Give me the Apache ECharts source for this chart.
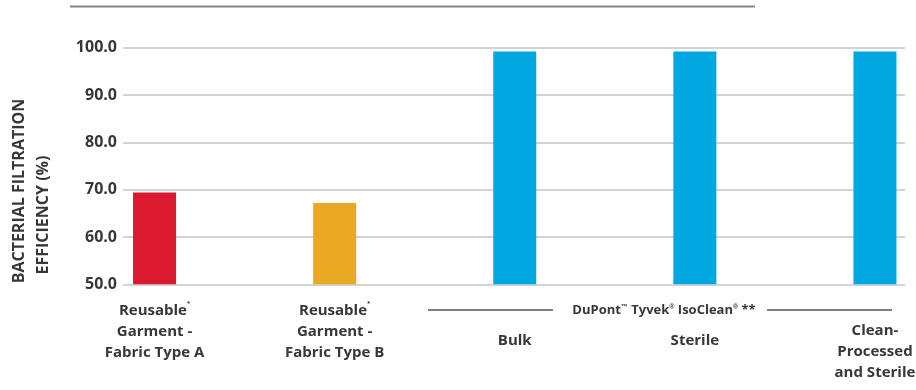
<!DOCTYPE html>
<html>
<head>
<meta charset="utf-8">
<script src="https://cdn.jsdelivr.net/npm/echarts@6/dist/echarts.min.js"></script>
<style>
  html, body { margin: 0; padding: 0; background: #ffffff; }
  #chart { width: 916px; height: 390px; }
</style>
</head>
<body>
<div id="chart"></div>
<script>
// Bacterial filtration efficiency by garment type
const categories = [
  'Reusable{s|*}\nGarment -\nFabric Type A',
  'Reusable{s|*}\nGarment -\nFabric Type B',
  'Bulk',
  'Sterile',
  'Clean-\nProcessed\nand Sterile'
];
const efficiency = [69.4, 67.2, 99.2, 99.2, 99.2];
const yTicks = { min: 50, max: 100, interval: 10 };

// styling
const barColors = ['#dc1a2f', '#eaa922', '#00a7e1', '#00a7e1', '#00a7e1'];
const labelDrop = [0, 0, 30, 30, 20]; // extra room below the IsoClean bracket
const textColor = '#3b3636';
const fontFamily = '"Open Sans", sans-serif';

const chart = echarts.init(document.getElementById('chart'), null, { renderer: 'canvas' });

const option = {
  animation: false,
  backgroundColor: '#ffffff',
  grid: [
    // value scale with horizontal rules
    { left: 123, right: 11, top: 47.8, bottom: 105.7, outerBoundsMode: 'none' },
    // bar layout: 180px per category
    { left: 64.5, width: 900.5, top: 47.8, bottom: 105.7, outerBoundsMode: 'none' }
  ],
  xAxis: [
    { gridIndex: 0, type: 'category', data: [''], show: false },
    {
      gridIndex: 1,
      type: 'category',
      data: categories.map((c, i) => ({ value: c, textStyle: { padding: [labelDrop[i], 0, 0, 0] } })),
      axisLine: { show: false },
      axisTick: { show: false },
      axisLabel: {
        interval: 0,
        margin: 16,
        color: textColor,
        fontFamily: fontFamily,
        fontWeight: 'bold',
        fontSize: 15,
        lineHeight: 21,
        rich: {
          s: { fontSize: 6, fontWeight: 'bold', color: textColor, verticalAlign: 'top', lineHeight: 8, fontFamily: fontFamily }
        }
      }
    }
  ],
  yAxis: [
    {
      gridIndex: 0,
      type: 'value',
      min: yTicks.min,
      max: yTicks.max,
      interval: yTicks.interval,
      axisLine: { show: false },
      axisTick: { show: false },
      splitLine: { show: true, lineStyle: { color: '#c4c4c4', width: 1.5 } },
      axisLabel: {
        margin: 6,
        padding: [0, 0, 6, 0],
        color: textColor,
        fontFamily: fontFamily,
        fontWeight: 'bold',
        fontSize: 16,
        formatter: v => v.toFixed(1)
      },
      name: '{l1|BACTERIAL FILTRATION}\n{l2|EFFICIENCY (%)}',
      nameLocation: 'middle',
      nameRotate: 90,
      nameGap: 68,
      nameTextStyle: {
        color: textColor,
        fontFamily: fontFamily,
        fontWeight: 'bold',
        fontSize: 16,
        lineHeight: 24,
        align: 'center',
        rich: {
          l1: { color: textColor, fontFamily: fontFamily, fontWeight: 'bold', fontSize: 16, lineHeight: 24, padding: [0, 50, 0, 0] },
          l2: { color: textColor, fontFamily: fontFamily, fontWeight: 'bold', fontSize: 16, lineHeight: 24, padding: [0, 98, 0, 0] }
        }
      }
    },
    {
      gridIndex: 1,
      type: 'value',
      min: yTicks.min,
      max: yTicks.max,
      interval: yTicks.interval,
      show: false
    }
  ],
  series: [
    {
      type: 'bar',
      xAxisIndex: 1,
      yAxisIndex: 1,
      barWidth: 43,
      data: efficiency.map((v, i) => ({ value: v, itemStyle: { color: barColors[i] } }))
    }
  ],
  graphic: [
    // rule across the top
    { type: 'line', shape: { x1: 70, y1: 6.5, x2: 755, y2: 6.5 }, style: { stroke: '#858585', lineWidth: 2 } },
    // bracket grouping the IsoClean variants
    { type: 'line', shape: { x1: 428, y1: 310, x2: 553, y2: 310 }, style: { stroke: '#555555', lineWidth: 1.5 } },
    { type: 'line', shape: { x1: 767, y1: 310, x2: 892, y2: 310 }, style: { stroke: '#555555', lineWidth: 1.5 } },
    {
      type: 'text',
      x: 664, y: 310,
      style: {
        text: 'DuPont{s|™} Tyvek{s|®} IsoClean{s|®} **',
        fill: textColor,
        font: 'bold 13px "Open Sans", sans-serif',
        align: 'center',
        verticalAlign: 'middle',
        rich: {
          s: { fontSize: 7, fontWeight: 'bold', fill: textColor, verticalAlign: 'top', lineHeight: 8 }
        }
      }
    }
  ]
};

chart.setOption(option);
</script>
</body>
</html>
